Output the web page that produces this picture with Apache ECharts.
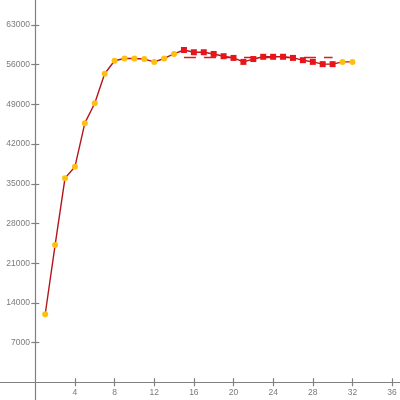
<!DOCTYPE html>
<html>
<head>
<meta charset="utf-8">
<script src="https://cdn.jsdelivr.net/npm/echarts@6/dist/echarts.min.js"></script>
<style>
html,body{margin:0;padding:0;background:#fff;}
#c{width:400px;height:400px;}
</style>
</head>
<body>
<div id="c"></div>
<script>
// Data
var xValues = [1,2,3,4,5,6,7,8,9,10,11,12,13,14,15,16,17,18,19,20,21,22,23,24,25,26,27,28,29,30,31,32];
var yValues = [12000,24200,36000,38000,45700,49200,54400,56700,57100,57100,57000,56500,57100,57900,58600,58200,58200,57900,57500,57200,56500,57000,57400,57400,57400,57200,56800,56500,56100,56100,56500,56500];
var highlightRange = [15, 30];
var xTicks = [4,8,12,16,20,24,28,32,36];
var yTicks = [7000,14000,21000,28000,35000,42000,49000,56000,63000];

var chart = echarts.init(document.getElementById('c'), null, {renderer:'canvas'});

var lineData = xValues.map(function(x, i){
  var inRange = x >= highlightRange[0] && x <= highlightRange[1];
  if (inRange) {
    return {value:[x, yValues[i]], symbol:'rect', symbolSize:6, itemStyle:{color:'#e8141a'}};
  }
  return {value:[x, yValues[i]]};
});
var hl = yValues.filter(function(v,i){return xValues[i]>=highlightRange[0] && xValues[i]<=highlightRange[1];});
var avg = hl.reduce(function(a,b){return a+b;},0)/hl.length;

var labelStyle = {color:'#7a7a7a', fontSize:8.5, fontFamily:'Liberation Sans', formatter:function(v){return String(v);}};
var tickLine = {color:'#808080', width:1.2};

chart.setOption({
  animation:false,
  backgroundColor:'#fff',
  grid:{left:0, right:0, top:0, bottom:0, outerBounds:{left:-300, right:-300, top:-300, bottom:-300}},
  xAxis:[{
    type:'value', min:-3.56, max:36.8,
    axisLine:{onZero:true, lineStyle:tickLine},
    axisTick:{show:true, length:4, customValues:xTicks, lineStyle:tickLine},
    splitLine:{show:false},
    axisLabel:Object.assign({show:true, margin:-12, customValues:xTicks}, labelStyle)
  },{
    type:'value', min:-3.56, max:36.8, position:'bottom',
    axisLine:{show:true, onZero:true, lineStyle:{color:'rgba(0,0,0,0)', width:0}},
    axisTick:{show:true, inside:true, length:4, customValues:xTicks, lineStyle:tickLine},
    axisLabel:{show:false}, splitLine:{show:false}
  }],
  yAxis:[{
    type:'value', min:-3121, max:67413,
    axisLine:{show:true, onZero:true, lineStyle:tickLine},
    axisTick:{show:true, length:4, customValues:yTicks, lineStyle:tickLine},
    splitLine:{show:false},
    axisLabel:Object.assign({show:true, margin:-30, customValues:yTicks}, labelStyle)
  },{
    type:'value', min:-3121, max:67413, position:'left',
    axisLine:{show:true, onZero:true, lineStyle:{color:'rgba(0,0,0,0)', width:0}},
    axisTick:{show:true, inside:true, length:4, customValues:yTicks, lineStyle:tickLine},
    axisLabel:{show:false}, splitLine:{show:false}
  }],
  series:[{
    type:'line',
    xAxisIndex:0, yAxisIndex:0,
    data:lineData,
    symbol:'circle', symbolSize:6,
    itemStyle:{color:'#ffbf10'},
    lineStyle:{color:'#b3161c', width:1.4},
    z:3,
    markLine:{
      silent:true, symbol:['none','none'], label:{show:false},
      lineStyle:{color:'#e01a1a', width:1.4, type:[12,8]},
      z:1,
      data:[[{coord:[highlightRange[0], avg]},{coord:[highlightRange[1], avg]}]]
    }
  }]
});
</script>
</body>
</html>
